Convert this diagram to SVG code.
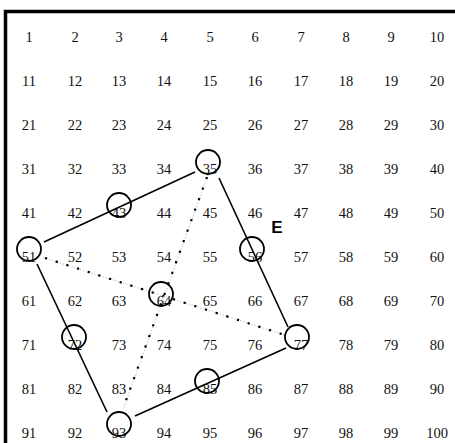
<svg xmlns="http://www.w3.org/2000/svg" width="455" height="443" viewBox="0 0 455 443">
<style>
.n{font-family:"Liberation Serif","Times New Roman",serif;font-size:14.5px;fill:#111;text-anchor:middle}
.c{fill:none;stroke:#000;stroke-width:1.8}
.e{fill:none;stroke:#000;stroke-width:1.6}
.dg{fill:none;stroke:#bbb;stroke-width:1.2;stroke-dasharray:1 2}
.db{fill:none;stroke:#000;stroke-width:2.2;stroke-dasharray:2.2 9}
.lbl{font-family:"Liberation Sans",Arial,sans-serif;font-size:17px;font-weight:bold;fill:#000;text-anchor:middle}
</style>
<rect width="455" height="443" fill="#fff"/>
<path d="M5.5,443 V11.5 H455" fill="none" stroke="#000" stroke-width="3.5"/>
<g id="grid">
<g id="row1"><text class="n" x="29" y="42">1</text><text class="n" x="75" y="42">2</text><text class="n" x="119" y="42">3</text><text class="n" x="164" y="42">4</text><text class="n" x="210" y="42">5</text><text class="n" x="255" y="42">6</text><text class="n" x="301" y="42">7</text><text class="n" x="346" y="42">8</text><text class="n" x="391" y="42">9</text><text class="n" x="437" y="42">10</text></g>
<g id="row2"><text class="n" x="29" y="86">11</text><text class="n" x="75" y="86">12</text><text class="n" x="119" y="86">13</text><text class="n" x="164" y="86">14</text><text class="n" x="210" y="86">15</text><text class="n" x="255" y="86">16</text><text class="n" x="301" y="86">17</text><text class="n" x="346" y="86">18</text><text class="n" x="391" y="86">19</text><text class="n" x="437" y="86">20</text></g>
<g id="row3"><text class="n" x="29" y="130">21</text><text class="n" x="75" y="130">22</text><text class="n" x="119" y="130">23</text><text class="n" x="164" y="130">24</text><text class="n" x="210" y="130">25</text><text class="n" x="255" y="130">26</text><text class="n" x="301" y="130">27</text><text class="n" x="346" y="130">28</text><text class="n" x="391" y="130">29</text><text class="n" x="437" y="130">30</text></g>
<g id="row4"><text class="n" x="29" y="174">31</text><text class="n" x="75" y="174">32</text><text class="n" x="119" y="174">33</text><text class="n" x="164" y="174">34</text><text class="n" x="210" y="174">35</text><text class="n" x="255" y="174">36</text><text class="n" x="301" y="174">37</text><text class="n" x="346" y="174">38</text><text class="n" x="391" y="174">39</text><text class="n" x="437" y="174">40</text></g>
<g id="row5"><text class="n" x="29" y="218">41</text><text class="n" x="75" y="218">42</text><text class="n" x="119" y="218">43</text><text class="n" x="164" y="218">44</text><text class="n" x="210" y="218">45</text><text class="n" x="255" y="218">46</text><text class="n" x="301" y="218">47</text><text class="n" x="346" y="218">48</text><text class="n" x="391" y="218">49</text><text class="n" x="437" y="218">50</text></g>
<g id="row6"><text class="n" x="29" y="262">51</text><text class="n" x="75" y="262">52</text><text class="n" x="119" y="262">53</text><text class="n" x="164" y="262">54</text><text class="n" x="210" y="262">55</text><text class="n" x="255" y="262">56</text><text class="n" x="301" y="262">57</text><text class="n" x="346" y="262">58</text><text class="n" x="391" y="262">59</text><text class="n" x="437" y="262">60</text></g>
<g id="row7"><text class="n" x="29" y="306">61</text><text class="n" x="75" y="306">62</text><text class="n" x="119" y="306">63</text><text class="n" x="164" y="306">64</text><text class="n" x="210" y="306">65</text><text class="n" x="255" y="306">66</text><text class="n" x="301" y="306">67</text><text class="n" x="346" y="306">68</text><text class="n" x="391" y="306">69</text><text class="n" x="437" y="306">70</text></g>
<g id="row8"><text class="n" x="29" y="350">71</text><text class="n" x="75" y="350">72</text><text class="n" x="119" y="350">73</text><text class="n" x="164" y="350">74</text><text class="n" x="210" y="350">75</text><text class="n" x="255" y="350">76</text><text class="n" x="301" y="350">77</text><text class="n" x="346" y="350">78</text><text class="n" x="391" y="350">79</text><text class="n" x="437" y="350">80</text></g>
<g id="row9"><text class="n" x="29" y="394">81</text><text class="n" x="75" y="394">82</text><text class="n" x="119" y="394">83</text><text class="n" x="164" y="394">84</text><text class="n" x="210" y="394">85</text><text class="n" x="255" y="394">86</text><text class="n" x="301" y="394">87</text><text class="n" x="346" y="394">88</text><text class="n" x="391" y="394">89</text><text class="n" x="437" y="394">90</text></g>
<g id="row10"><text class="n" x="29" y="438">91</text><text class="n" x="75" y="438">92</text><text class="n" x="119" y="438">93</text><text class="n" x="164" y="438">94</text><text class="n" x="210" y="438">95</text><text class="n" x="255" y="438">96</text><text class="n" x="301" y="438">97</text><text class="n" x="346" y="438">98</text><text class="n" x="391" y="438">99</text><text class="n" x="437" y="438">100</text></g>
</g>
<g id="connectors">
<line class="e" x1="44" y1="242" x2="195" y2="172"/>
<line class="e" x1="219" y1="178" x2="288" y2="327"/>
<line class="e" x1="286" y1="348" x2="135" y2="416"/>
<line class="e" x1="107" y1="412" x2="37" y2="264"/>
<line class="dg" x1="43" y1="257.5" x2="285" y2="335"/>
<line class="db" x1="45" y1="258" x2="285" y2="335"/>
<line class="dg" x1="208" y1="175" x2="124" y2="407"/>
<line class="db" x1="207" y1="177" x2="124" y2="406"/>
</g>
<g id="node35"><circle class="c" cx="208" cy="162" r="12"/></g>
<g id="node43"><circle class="c" cx="119" cy="205" r="12"/></g>
<g id="node51"><circle class="c" cx="29" cy="249" r="12"/></g>
<g id="node56"><circle class="c" cx="252" cy="249" r="12"/></g>
<g id="node64"><circle class="c" cx="161" cy="294" r="12"/></g>
<g id="node72"><circle class="c" cx="74" cy="337" r="12"/></g>
<g id="node77"><circle class="c" cx="297" cy="337" r="12"/></g>
<g id="node85"><circle class="c" cx="207" cy="381" r="12"/></g>
<g id="node93"><circle class="c" cx="119" cy="424" r="12"/></g>
<g id="label-E"><text class="lbl" x="277" y="233">E</text></g>
</svg>
